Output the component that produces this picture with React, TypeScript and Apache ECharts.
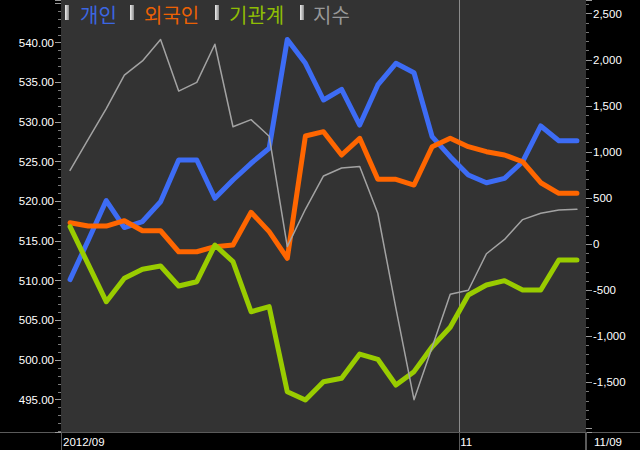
import React, { useEffect, useRef } from 'react';
import * as echarts from 'echarts';

// Trading days (2012/09/28 – 2012/11/09)
const dates = [
  '2012/09/28', '2012/10/02', '2012/10/04', '2012/10/05', '2012/10/08', '2012/10/09', '2012/10/10',
  '2012/10/11', '2012/10/12', '2012/10/15', '2012/10/16', '2012/10/17', '2012/10/18', '2012/10/19',
  '2012/10/22', '2012/10/23', '2012/10/24', '2012/10/25', '2012/10/26', '2012/10/29', '2012/10/30',
  '2012/10/31', '2012/11/01', '2012/11/02', '2012/11/05', '2012/11/06', '2012/11/07', '2012/11/08',
  '2012/11/09',
];

// Net buying (right axis)
const individual = [
  -385, 39, 473, 180, 245, 460, 913, 913, 497, 696, 877, 1040, 2220, 1962, 1564,
  1680, 1292, 1727, 1962, 1860, 1166, 949, 750, 666, 714, 894, 1282, 1122, 1122,
];
const foreign = [
  232, 196, 196, 254, 145, 145, -83, -83, -28, -10, 345, 135, -154, 1173, 1220,
  967, 1148, 703, 703, 641, 1057, 1148, 1057, 1003, 967, 894, 666, 551, 551,
];
const institution = [
  189, -218, -625, -371, -273, -238, -455, -408, -10, -191, -734, -679, -1602, -1692, -1493,
  -1456, -1193, -1250, -1529, -1384, -1113, -903, -552, -444, -397, -498, -498, -173, -173,
];
// Index (left axis)
const indexValues = [
  523.9, 527.8, 531.7, 535.9, 537.7, 540.4, 533.9, 535.0, 539.8, 529.4, 530.3, 528.2, 514.3, 519.0, 523.2,
  524.2, 524.4, 518.5, 506.5, 495.0, 501.6, 508.3, 508.8, 513.4, 515.2, 517.7, 518.5, 518.9, 519.0,
];

const seriesNames = ['개인', '외국인', '기관계', '지수'];
const seriesColors = ['#3d6cf5', '#ff6600', '#99cc00', '#a3a3a3'];

// x tick labels: position in category bands (0 = first band start)
const xTickPositions = [0, 22, 29];
const xTickTexts = ['2012/09', '11', '11/09'];

// axis ranges
const leftMin = 490.93;
const leftMax = 545.38;
const leftStep = 5;
const leftLabelMax = 540;
const rightMin = -2039;
const rightMax = 2649;
const rightStep = 500;
const rightLabelMin = -1500;

const monthStart = xTickPositions[1];

export default function App() {
  const ref = useRef<HTMLDivElement>(null);

  useEffect(() => {
    if (!ref.current) return;
    const chart = echarts.init(ref.current, null, { renderer: 'svg' });
    const axisFont = '"Liberation Sans", Arial, sans-serif';
    const cjkFont = '"Noto Sans CJK KR", sans-serif';
    const labelSize = 11.5;

    const legendRectX = [65, 130, 215, 300];
    const legendTextX = [80, 144, 229, 313];
    const legendGraphics: any[] = [];
    seriesNames.forEach((n, i) => {
      legendGraphics.push({
        type: 'rect',
        shape: { x: legendRectX[i], y: 5, width: 4, height: 15 },
        style: {
          fill: new echarts.graphic.LinearGradient(0, 0, 1, 0, [
            { offset: 0, color: '#f0f0f0' },
            { offset: 1, color: '#8a8a8a' },
          ]),
        },
        silent: true,
        z: 100,
      });
      legendGraphics.push({
        type: 'text',
        x: legendTextX[i],
        y: 14,
        style: {
          text: n,
          fill: seriesColors[i],
          fontSize: 20,
          fontWeight: 'normal',
          fontFamily: cjkFont,
          verticalAlign: 'middle',
          textVerticalAlign: 'middle',
          opacity: 0.92,
        },
        silent: true,
        z: 100,
      });
    });

    const isMultiple = (v: number, step: number) => Math.abs(v / step - Math.round(v / step)) < 1e-6;

    const lineSeries = (idx: number, data: number[], yAxisIndex: number, width: number) => ({
      name: seriesNames[idx],
      type: 'line',
      xAxisIndex: 0,
      yAxisIndex,
      data,
      symbol: 'none',
      smooth: false,
      itemStyle: { color: seriesColors[idx] },
      lineStyle: { color: seriesColors[idx], width, cap: 'round', join: 'round' },
      emphasis: { disabled: true },
      z: 2 + idx,
    });

    // split line colours on the band-boundary axis: only the month boundary is visible
    const boundaryLineColors: string[] = [];
    for (let i = 0; i <= dates.length; i++) {
      boundaryLineColors.push(i === monthStart ? '#8c8c8c' : 'rgba(0,0,0,0)');
    }

    chart.setOption({
      animation: false,
      backgroundColor: '#000000',
      textStyle: { fontFamily: axisFont },
      grid: {
        left: 61,
        right: 54,
        top: 0,
        bottom: 18,
        show: true,
        backgroundColor: '#333333',
        borderWidth: 0,
      },
      xAxis: [
        {
          type: 'category',
          data: dates,
          boundaryGap: true,
          position: 'bottom',
          axisLine: { show: false, onZero: false },
          axisLabel: { show: false },
          axisTick: {
            show: true,
            interval: (i: number) => i === 0 || i === monthStart,
            length: 18,
            lineStyle: { color: '#5a5a5a', width: 1 },
          },
          splitLine: { show: false },
        },
        {
          type: 'value',
          min: 0,
          max: dates.length,
          interval: 1,
          position: 'bottom',
          axisLine: { show: false, onZero: false },
          axisTick: { show: false },
          splitLine: {
            show: true,
            showMinLine: true,
            showMaxLine: true,
            lineStyle: { color: boundaryLineColors, width: 1 },
          },
          axisLabel: {
            show: true,
            margin: 4,
            align: 'left',
            verticalAlign: 'top',
            color: '#ffffff',
            fontSize: labelSize,
            fontFamily: axisFont,
            formatter: (v: number) => {
              const k = xTickPositions.indexOf(Math.round(v));
              if (k < 0) return '';
              return '{p' + k + '|' + xTickTexts[k] + '}';
            },
            rich: {
              p0: { color: '#fff', fontSize: labelSize, fontFamily: axisFont, padding: [0, 0, 0, 2] },
              p1: { color: '#fff', fontSize: labelSize, fontFamily: axisFont, padding: [0, 0, 0, 1] },
              p2: { color: '#fff', fontSize: labelSize, fontFamily: axisFont, padding: [0, 0, 0, 8] },
            },
          },
        },
      ],
      yAxis: [
        {
          type: 'value',
          position: 'left',
          min: leftMin,
          max: leftMax,
          minInterval: leftStep,
          maxInterval: leftStep,
          splitNumber: 11,
          axisLine: { show: false },
          axisTick: { show: true, length: 6, lineStyle: { color: '#9a9a9a' } },
          minorTick: { show: true, splitNumber: 5, length: 3, lineStyle: { color: '#7a7a7a' } },
          splitLine: { show: false },
          axisLabel: {
            color: '#ffffff',
            fontSize: labelSize,
            fontFamily: axisFont,
            margin: 7,
            formatter: (v: number) =>
              isMultiple(v, leftStep) && v <= leftLabelMax ? v.toFixed(2) : '',
          },
        },
        {
          type: 'value',
          position: 'right',
          min: rightMin,
          max: rightMax,
          minInterval: rightStep,
          maxInterval: rightStep,
          splitNumber: 9,
          axisLine: { show: false },
          axisTick: { show: true, length: 6, lineStyle: { color: '#9a9a9a' } },
          minorTick: { show: true, splitNumber: 5, length: 3, lineStyle: { color: '#7a7a7a' } },
          splitLine: { show: false },
          axisLabel: {
            color: '#ffffff',
            fontSize: labelSize,
            fontFamily: axisFont,
            margin: 7,
            formatter: (v: number) =>
              isMultiple(v, rightStep) && v >= rightLabelMin
                ? Math.round(v).toLocaleString('en-US')
                : '',
          },
        },
      ],
      series: [
        lineSeries(0, individual, 1, 5),
        lineSeries(1, foreign, 1, 5),
        lineSeries(2, institution, 1, 5),
        lineSeries(3, indexValues, 0, 1.5),
      ],
      graphic: [
        ...legendGraphics,
        {
          type: 'line',
          shape: { x1: 0, y1: 432.5, x2: 640, y2: 432.5 },
          style: { stroke: '#5a5a5a', lineWidth: 1 },
          silent: true,
        },
        {
          type: 'line',
          shape: { x1: 585.5, y1: 432, x2: 585.5, y2: 450 },
          style: { stroke: '#5a5a5a', lineWidth: 1 },
          silent: true,
        },
      ],
    });

    return () => chart.dispose();
  }, []);

  return (
    <div
      ref={ref}
      style={{ position: 'fixed', left: 0, top: 0, width: 640, height: 450 }}
    />
  );
}
